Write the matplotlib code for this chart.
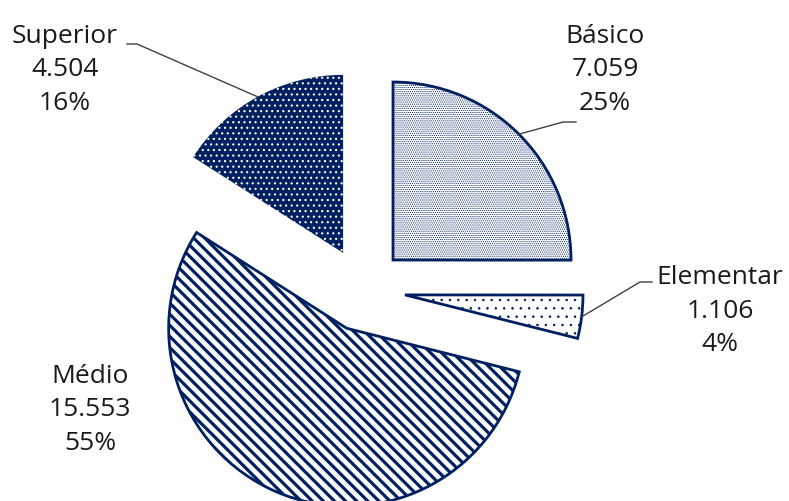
import matplotlib
matplotlib.use("Agg")
import matplotlib.pyplot as plt
import numpy as np

# data
labels = ['Básico', 'Elementar', 'Médio', 'Superior']
values = [7059, 1106, 15553, 4504]
value_text = ['7.059', '1.106', '15.553', '4.504']
pct_text = ['25%', '4%', '55%', '16%']

navy = '#002060'

plt.rcParams['font.family'] = ['Open Sans', 'DejaVu Sans']

fig = plt.figure(figsize=(7.89, 5.02), dpi=100)
ax = fig.add_axes([0, 0, 1, 1])

# axes in pixel units so the pie sits where it does in the picture
R = 178
cx, cy = 363.3, 502 - 290.7
wedges, _ = ax.pie(values, startangle=90, counterclock=False, radius=R,
                   center=(cx, cy), explode=[42] * 4,
                   wedgeprops=dict(linewidth=2))

faces = ['white', 'white', 'white', navy]
edges = [navy, navy, navy, 'white']
hatches = ['........', '..', '\\\\\\', '...']
hlw = [0.5, 0.6, 2.3, 0.8]
for w, fc, ec, h, lw in zip(wedges, faces, edges, hatches, hlw):
    w.set_facecolor(fc)
    w.set_edgecolor(ec)
    w.set_hatch(h)
    w.set_hatch_linewidth(lw)
wedges[3].set_linewidth(0)

ax.set_xlim(0, 789)
ax.set_ylim(0, 502)
ax.axis('off')

# label blocks (pixel positions, y from top)
label_pos = [(605, 70), (720, 311), (90, 410), (65, 70)]
for i, (px, py) in enumerate(label_pos):
    ax.text(px, 502 - py, f"{labels[i]}\n{value_text[i]}\n{pct_text[i]}",
            ha='center', va='center', fontsize=19, color='#1a1a1a',
            linespacing=1.45)

# leader lines from slice mid-arc to label
elbows = {0: [(563, 123), (576, 123)],
          1: [(640, 283), (652, 283)],
          3: [(137, 45), (127, 45)]}
for i, pts in elbows.items():
    w = wedges[i]
    mid = np.deg2rad((w.theta1 + w.theta2) / 2)
    x0 = w.center[0] + w.r * np.cos(mid)
    y0 = w.center[1] + w.r * np.sin(mid)
    xs = [x0] + [p[0] for p in pts]
    ys = [y0] + [502 - p[1] for p in pts]
    ax.plot(xs, ys, color='#404040', lw=1)

fig.savefig('out.png', dpi=100)
